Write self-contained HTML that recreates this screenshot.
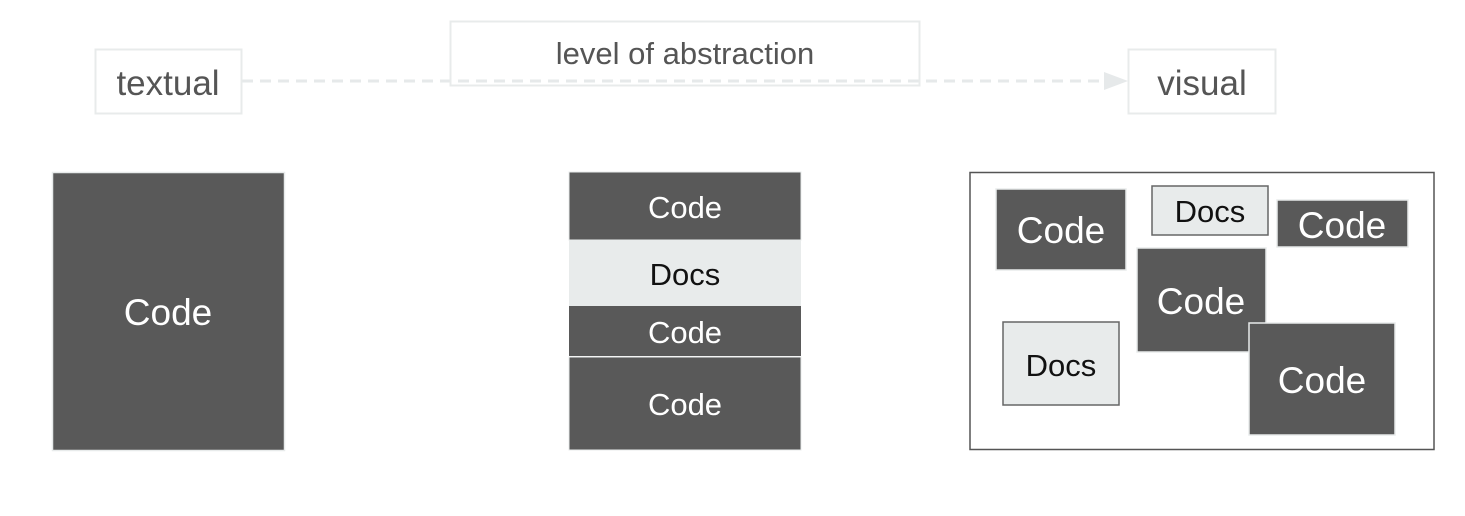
<!DOCTYPE html>
<html><head><meta charset="utf-8"><style>
html,body{margin:0;padding:0;background:#fff;}
svg{display:block;}
text{font-family:"Liberation Sans",sans-serif;}
</style></head><body>
<svg width="1465" height="516" viewBox="0 0 1465 516" xmlns="http://www.w3.org/2000/svg">
<rect width="1465" height="516" fill="#fff"/>
<line x1="242" y1="81" x2="1105" y2="81" stroke="#e6e9ea" stroke-width="3" stroke-dasharray="11,7"/>
<polygon points="1104,72 1128,81 1104,90" fill="#e6e9ea"/>
<rect x="95.5" y="49.5" width="146" height="64" fill="#fff" stroke="#e8ebeb" stroke-width="2"/>
<text x="168" y="95" font-size="35" fill="#555" text-anchor="middle">textual</text>
<rect x="450.5" y="21.5" width="469" height="64" fill="none" stroke="#e8ebeb" stroke-width="2"/>
<text x="685" y="64" font-size="31" fill="#555" text-anchor="middle">level of abstraction</text>
<rect x="1128.5" y="49.5" width="147" height="64" fill="#fff" stroke="#e8ebeb" stroke-width="2"/>
<text x="1202" y="95" font-size="35" fill="#555" text-anchor="middle">visual</text>
<rect x="52.5" y="172.5" width="232" height="278" fill="#595959" stroke="#e8ebeb" stroke-width="1.5"/>
<text x="168" y="325" font-size="37" fill="#fff" text-anchor="middle">Code</text>
<rect x="569" y="172" width="232" height="68" fill="#595959" stroke="#e8ebeb" stroke-width="1"/>
<text x="685" y="218" font-size="31" fill="#fff" text-anchor="middle">Code</text>
<rect x="569" y="240" width="232" height="66" fill="#e8ebeb"/>
<text x="685" y="285" font-size="31" fill="#111" text-anchor="middle">Docs</text>
<rect x="569" y="306" width="232" height="50" fill="#595959"/>
<text x="685" y="343" font-size="31" fill="#fff" text-anchor="middle">Code</text>
<rect x="569" y="357" width="232" height="93" fill="#595959" stroke="#e8ebeb" stroke-width="1"/>
<text x="685" y="415" font-size="31" fill="#fff" text-anchor="middle">Code</text>
<rect x="970" y="172.5" width="464" height="277" fill="#fff" stroke="#555" stroke-width="1.5"/>
<rect x="996" y="189" width="130" height="81" fill="#595959" stroke="#e8ebeb" stroke-width="1.5"/>
<text x="1061" y="243" font-size="37" fill="#fff" text-anchor="middle">Code</text>
<rect x="1152" y="186" width="116" height="49" fill="#e8ebeb" stroke="#666" stroke-width="1.5"/>
<text x="1210" y="222" font-size="31" fill="#111" text-anchor="middle">Docs</text>
<rect x="1277" y="200" width="131" height="47" fill="#595959" stroke="#e8ebeb" stroke-width="1.5"/>
<text x="1342" y="238" font-size="37" fill="#fff" text-anchor="middle">Code</text>
<rect x="1137" y="248" width="129" height="104" fill="#595959" stroke="#e8ebeb" stroke-width="1.5"/>
<text x="1201" y="314" font-size="37" fill="#fff" text-anchor="middle">Code</text>
<rect x="1003" y="322" width="116" height="83" fill="#e8ebeb" stroke="#666" stroke-width="1.5"/>
<text x="1061" y="376" font-size="31" fill="#111" text-anchor="middle">Docs</text>
<rect x="1249" y="323" width="146" height="112" fill="#595959" stroke="#e8ebeb" stroke-width="1.5"/>
<text x="1322" y="393" font-size="37" fill="#fff" text-anchor="middle">Code</text>
</svg>
</body></html>
